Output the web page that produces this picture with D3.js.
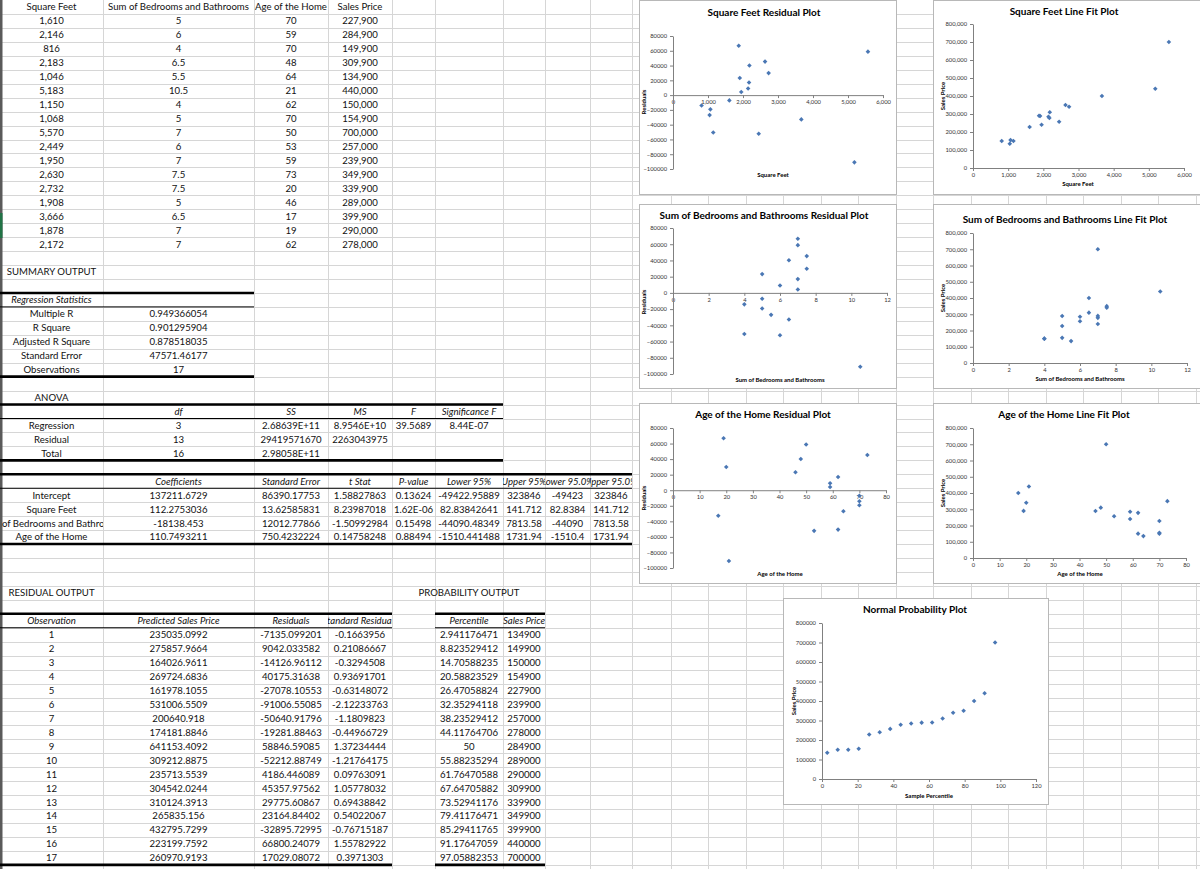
<!DOCTYPE html>
<html><head><meta charset="utf-8">
<script src="https://cdn.jsdelivr.net/npm/d3@7"></script>
<style>body{margin:0;background:#fff;overflow:hidden}text{font-family:Lato,"Open Sans",sans-serif}</style>
</head><body>
<script>
// ---------- data ----------
const squareFeet=[1610,2146,816,2183,1046,5183,1150,1068,5570,2449,1950,2630,2732,1908,3666,1878,2172];
const bedsBaths=[5,6,4,6.5,5.5,10.5,4,5,7,6,7,7.5,7.5,5,6.5,7,7];
const ageOfHome=[70,59,70,48,64,21,62,70,50,53,59,73,20,46,17,19,62];
const salesPrice=[227900,284900,149900,309900,134900,440000,150000,154900,700000,257000,239900,349900,339900,289000,399900,290000,278000];
const predicted=[235035.0992,275857.9664,164026.9611,269724.6836,161978.1055,531006.5509,200640.918,174181.8846,641153.4092,309212.8875,235713.5539,304542.0244,310124.3913,265835.156,432795.7299,223199.7592,260970.9193];
const residuals=[-7135.099201,9042.033582,-14126.96112,40175.31638,-27078.10553,-91006.55085,-50640.91796,-19281.88463,58846.59085,-52212.88749,4186.446089,45357.97562,29775.60867,23164.84402,-32895.72995,66800.24079,17029.08072];
const stdResiduals=["-0.1663956","0.21086667","-0.3294508","0.93691701","-0.63148072","-2.12233763","-1.1809823","-0.44966729","1.37234444","-1.21764175","0.09763091","1.05778032","0.69438842","0.54022067","-0.76715187","1.55782922","0.3971303"];
const percentiles=[2.941176471,8.823529412,14.70588235,20.58823529,26.47058824,32.35294118,38.23529412,44.11764706,50,55.88235294,61.76470588,67.64705882,73.52941176,79.41176471,85.29411765,91.17647059,97.05882353];
const sortedPrice=[134900,149900,150000,154900,227900,239900,257000,278000,284900,289000,290000,309900,339900,349900,399900,440000,700000];

const inputHeaders=["Square Feet","Sum of Bedrooms and Bathrooms","Age of the Home","Sales Price"];
const regStatLabels=["Multiple R","R Square","Adjusted R Square","Standard Error","Observations"];
const regStatValues=["0.949366054","0.901295904","0.878518035","47571.46177","17"];
const anovaHeaders=["df","SS","MS","F","Significance F"];
const anovaRows=[["Regression","3","2.68639E+11","8.9546E+10","39.5689","8.44E-07"],["Residual","13","29419571670","2263043975"],["Total","16","2.98058E+11"]];
const coefHeaders=["Coefficients","Standard Error","t Stat","P-value","Lower 95%","Upper 95%","Lower 95.0%","Upper 95.0%"];
const coefRows=[
 ["Intercept","137211.6729","86390.17753","1.58827863","0.13624","-49422.95889","323846","-49423","323846"],
 ["Square Feet","112.2753036","13.62585831","8.23987018","1.62E-06","82.83842641","141.712","82.8384","141.712"],
 ["Sum of Bedrooms and Bathrooms","-18138.453","12012.77866","-1.50992984","0.15498","-44090.48349","7813.58","-44090","7813.58"],
 ["Age of the Home","110.7493211","750.4232224","0.14758248","0.88494","-1510.441488","1731.94","-1510.4","1731.94"]];
const residHeaders=["Observation","Predicted Sales Price","Residuals","Standard Residuals"];
const probHeaders=["Percentile","Sales Price"];

const sqftTicks=[0,1000,2000,3000,4000,5000,6000];
const bedTicks=[0,2,4,6,8,10,12];
const ageTicks=[0,10,20,30,40,50,60,70,80];
const residTicks=[80000,60000,40000,20000,0,-20000,-40000,-60000,-80000,-100000];
const priceTicks=[0,100000,200000,300000,400000,500000,600000,700000,800000];
const pctTicks=[0,20,40,60,80,100,120];

// ---------- sheet ----------
const W=1200,H=869,rowH=13.95;
const colEdges=[0,103,254,328,392,435,503,545,590,632,671,708,746,783,821,858,896,933,971,1008,1046,1083,1121,1158,1196,1234];
const rowTop=r=>r*rowH;
const svg=d3.select("body").append("svg").attr("width",W).attr("height",H);
svg.append("rect").attr("width",W).attr("height",H).attr("fill","#fff");
const defs=svg.append("defs");
colEdges.slice(0,-1).forEach((e,i)=>{
  defs.append("clipPath").attr("id","cc"+i).append("rect").attr("x",e).attr("y",0).attr("width",colEdges[i+1]-e).attr("height",H);
});
const grid=svg.append("g").attr("stroke","#d6d6d6").attr("stroke-width",1);
colEdges.forEach(e=>grid.append("line").attr("x1",e+0.5).attr("x2",e+0.5).attr("y1",0).attr("y2",H));
for(let k=1;k*rowH<H;k++){const y=Math.round(rowTop(k))+0.5;grid.append("line").attr("x1",0).attr("x2",W).attr("y1",y).attr("y2",y);}
svg.append("rect").attr("x",0).attr("y",0).attr("width",2.5).attr("height",H).attr("fill","#5a5a5a");
svg.append("rect").attr("x",0).attr("y",213).attr("width",2.5).attr("height",25).attr("fill","#217346");

const cells=svg.append("g").attr("font-size","9.6px").attr("fill","#111");
function cell(c,r,txt,o={}){
  const x=(colEdges[c]+colEdges[c+1])/2, y=rowTop(r)+rowH/2+3.4;
  const t=cells.append("text").attr("x",x).attr("y",y).attr("text-anchor","middle").text(txt);
  if(o.italic) t.attr("font-style","italic");
  if(o.clip!==false) t.attr("clip-path","url(#cc"+c+")");
}
const fmt=d3.format(",");
inputHeaders.forEach((h,i)=>cell(i,0,h));
squareFeet.forEach((v,i)=>{cell(0,i+1,fmt(v));cell(1,i+1,String(bedsBaths[i]));cell(2,i+1,String(ageOfHome[i]));cell(3,i+1,fmt(salesPrice[i]));});
cell(0,19,"SUMMARY OUTPUT");
cell(0,21,"Regression Statistics",{italic:true});
regStatLabels.forEach((l,i)=>{cell(0,22+i,l);cell(1,22+i,regStatValues[i]);});
cell(0,28,"ANOVA");
anovaHeaders.forEach((h,i)=>cell(1+i,29,h,{italic:true}));
anovaRows.forEach((row,j)=>row.forEach((v,i)=>cell(i,30+j,v)));
coefHeaders.forEach((h,i)=>cell(1+i,34,h,{italic:true}));
coefRows.forEach((row,j)=>row.forEach((v,i)=>cell(i,35+j,v)));
cell(0,42,"RESIDUAL OUTPUT");
cell(5,42,"PROBABILITY OUTPUT",{clip:false});
residHeaders.forEach((h,i)=>cell(i,44,h,{italic:true}));
probHeaders.forEach((h,i)=>cell(5+i,44,h,{italic:true}));
predicted.forEach((v,i)=>{cell(0,45+i,String(i+1));cell(1,45+i,String(v));cell(2,45+i,String(residuals[i]));cell(3,45+i,stdResiduals[i]);});
percentiles.forEach((v,i)=>{cell(5,45+i,String(v));cell(6,45+i,String(sortedPrice[i]));});

function hline(r,c0,c1,w){const y=rowTop(r);svg.append("line").attr("x1",colEdges[c0]).attr("x2",colEdges[c1+1]).attr("y1",y).attr("y2",y).attr("stroke","#000").attr("stroke-width",w);}
[[21,27,0,1],[29,33,0,5],[34,39,0,8],[44,62,0,3],[44,62,5,6]].forEach(([a,b,c0,c1])=>{hline(a,c0,c1,2.6);hline(a+1,c0,c1,1);hline(b,c0,c1,2.6);});

// ---------- charts ----------
function chart(o){
  const g=svg.append("g");
  g.append("rect").attr("x",o.box[0]+0.5).attr("y",o.box[1]+0.5).attr("width",o.box[2]-o.box[0]).attr("height",o.box[3]-o.box[1]).attr("fill","#fff").attr("stroke","#b8b8b8");
  g.append("text").attr("x",o.title[1]).attr("y",o.title[2]).attr("text-anchor","middle").attr("font-weight","bold").attr("font-size","10px").attr("fill","#000").text(o.title[0]);
  const x=d3.scaleLinear().domain(o.xd).range([o.px[0],o.px[1]]);
  const y=d3.scaleLinear().domain(o.yd).range([o.py[1],o.py[0]]);
  const y0=o.resid?y(0):y(o.yd[0]);
  const xa=g.append("g").attr("transform",`translate(0,${y0})`).call(d3.axisBottom(x).tickValues(o.xt).tickFormat(o.xf).tickSize(3).tickSizeOuter(0).tickPadding(2));
  const ya=g.append("g").attr("transform",`translate(${x(0)},0)`).call(d3.axisLeft(y).tickValues(o.yt).tickFormat(o.yf).tickSize(3).tickSizeOuter(0).tickPadding(3));
  [xa,ya].forEach(a=>{a.selectAll("path,line").attr("stroke","#808080");a.selectAll("text").attr("font-size","5.8px").attr("fill","#333").attr("font-family","Lato");});
  g.append("text").attr("x",o.xl[1]).attr("y",o.xl[2]).attr("text-anchor","middle").attr("font-weight","bold").attr("font-size","6px").text(o.xl[0]);
  g.append("text").attr("transform",`translate(${o.yl[1]},${o.yl[2]}) rotate(-90)`).attr("text-anchor","middle").attr("font-weight","bold").attr("font-size","6px").text(o.yl[0]);
  const r=2.3;
  g.selectAll("path.pt").data(o.xs.map((v,i)=>[v,o.ys[i]])).join("path").attr("class","pt")
    .attr("d",d=>{const cx=x(d[0]),cy=y(d[1]);return `M${cx},${cy-r}L${cx+r},${cy}L${cx},${cy+r}L${cx-r},${cy}Z`;})
    .attr("fill","#4a77b4");
}
const f0=d3.format("d");
chart({box:[639,0,896,194],title:["Square Feet  Residual Plot",764,16],px:[673,883],py:[36,169],xd:[0,6000],yd:[-100000,80000],xt:sqftTicks,yt:residTicks,xf:fmt,yf:f0,resid:true,xl:["Square Feet",773,177],yl:["Residuals",646,102],xs:squareFeet,ys:residuals});
chart({box:[933,0,1201,194],title:["Square Feet Line Fit  Plot",1064,15],px:[973,1184],py:[24,168],xd:[0,6000],yd:[0,800000],xt:sqftTicks,yt:priceTicks,xf:fmt,yf:fmt,xl:["Square Feet",1078,186],yl:["Sales Price",945,96],xs:squareFeet,ys:salesPrice});
chart({box:[639,204,896,388],title:["Sum of Bedrooms and Bathrooms  Residual Plot",764,219],px:[673,887],py:[228,374],xd:[0,12],yd:[-100000,80000],xt:bedTicks,yt:residTicks,xf:f0,yf:f0,resid:true,xl:["Sum of Bedrooms and Bathrooms",780,382],yl:["Residuals",646,302],xs:bedsBaths,ys:residuals});
chart({box:[933,204,1201,388],title:["Sum of Bedrooms and Bathrooms Line Fit  Plot",1065,223],px:[973,1187],py:[233,363],xd:[0,12],yd:[0,800000],xt:bedTicks,yt:priceTicks,xf:f0,yf:fmt,xl:["Sum of Bedrooms and Bathrooms",1080,381],yl:["Sales Price",945,298],xs:bedsBaths,ys:salesPrice});
chart({box:[639,403,896,583],title:["Age of the Home  Residual Plot",763,418],px:[673,886],py:[428,568],xd:[0,80],yd:[-100000,80000],xt:ageTicks,yt:residTicks,xf:f0,yf:f0,resid:true,xl:["Age of the Home",780,576],yl:["Residuals",646,498],xs:ageOfHome,ys:residuals});
chart({box:[933,403,1201,583],title:["Age of the Home Line Fit  Plot",1064,418],px:[973,1186],py:[428,558],xd:[0,80],yd:[0,800000],xt:ageTicks,yt:priceTicks,xf:f0,yf:fmt,xl:["Age of the Home",1080,576],yl:["Sales Price",945,493],xs:ageOfHome,ys:salesPrice});
chart({box:[783,598,1048,804],title:["Normal Probability Plot",915,613],px:[822,1036],py:[623,779],xd:[0,120],yd:[0,800000],xt:pctTicks,yt:priceTicks,xf:f0,yf:f0,xl:["Sample Percentile",929,798],yl:["Sales Price",796,701],xs:percentiles,ys:sortedPrice});
</script>
</body></html>
